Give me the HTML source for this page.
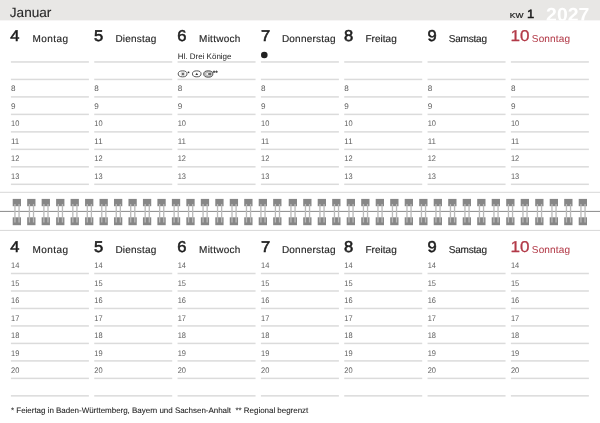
<!DOCTYPE html>
<html lang="de"><head><meta charset="utf-8"><title>Kalender KW 1 2027</title><style>html,body{margin:0;padding:0;background:#fff;}body{width:600px;height:423px;overflow:hidden;}svg{display:block;will-change:transform;}</style></head><body>
<svg width="600" height="423" viewBox="0 0 600 423" font-family="Liberation Sans, sans-serif" text-rendering="geometricPrecision">
<rect x="0" y="0" width="600" height="423" fill="#fff"/>
<clipPath id="bc"><rect x="0" y="0" width="600" height="20.4"/></clipPath>
<rect x="0" y="0" width="600" height="20.4" fill="#e8e7e5"/>
<g clip-path="url(#bc)"><text x="546.1" y="20.95" font-size="19" font-weight="bold" fill="#fff" textLength="43.2" lengthAdjust="spacingAndGlyphs">2027</text></g>
<text x="9.8" y="16.75" font-size="13.4" fill="#282828" stroke="#282828" stroke-width="0.12" textLength="41.6" lengthAdjust="spacingAndGlyphs">Januar</text>
<text x="509.8" y="17.75" font-size="7.2" fill="#1c1c1c" stroke="#1c1c1c" stroke-width="0.2" textLength="13.6" lengthAdjust="spacingAndGlyphs">KW</text>
<text x="526.9" y="17.75" font-size="12" fill="#1c1c1c" stroke="#1c1c1c" stroke-width="0.5" textLength="7.2" lengthAdjust="spacingAndGlyphs">1</text>
<text x="10.20" y="41.05" font-size="15.7" fill="#1c1c1c" stroke="#1c1c1c" stroke-width="0.55" textLength="9.20" lengthAdjust="spacingAndGlyphs">4</text>
<text x="32.45" y="41.75" font-size="10" fill="#262626" stroke="#262626" stroke-width="0.15" textLength="35.55" lengthAdjust="spacing">Montag</text>
<rect x="10.90" y="61.20" width="78.00" height="1.5" fill="#dbdbdb"/>
<rect x="10.90" y="78.68" width="78.00" height="1.5" fill="#dbdbdb"/>
<rect x="10.90" y="96.16" width="78.00" height="1.5" fill="#dbdbdb"/>
<rect x="10.90" y="113.64" width="78.00" height="1.5" fill="#dbdbdb"/>
<rect x="10.90" y="131.12" width="78.00" height="1.5" fill="#dbdbdb"/>
<rect x="10.90" y="148.60" width="78.00" height="1.5" fill="#dbdbdb"/>
<rect x="10.90" y="166.08" width="78.00" height="1.5" fill="#dbdbdb"/>
<rect x="10.90" y="183.56" width="78.00" height="1.5" fill="#dbdbdb"/>
<text x="11.00" y="91.36" font-size="8.1" fill="#5e5e5e">8</text>
<text x="11.00" y="108.84" font-size="8.1" fill="#5e5e5e">9</text>
<text x="11.00" y="126.32" font-size="8.1" fill="#5e5e5e" textLength="8.3" lengthAdjust="spacingAndGlyphs">10</text>
<text x="11.00" y="143.80" font-size="8.1" fill="#5e5e5e" textLength="8.3" lengthAdjust="spacingAndGlyphs">11</text>
<text x="11.00" y="161.28" font-size="8.1" fill="#5e5e5e" textLength="8.3" lengthAdjust="spacingAndGlyphs">12</text>
<text x="11.00" y="178.76" font-size="8.1" fill="#5e5e5e" textLength="8.3" lengthAdjust="spacingAndGlyphs">13</text>
<text x="93.90" y="41.05" font-size="15.7" fill="#1c1c1c" stroke="#1c1c1c" stroke-width="0.55" textLength="9.20" lengthAdjust="spacingAndGlyphs">5</text>
<text x="115.45" y="41.75" font-size="10" fill="#262626" stroke="#262626" stroke-width="0.15" textLength="40.80" lengthAdjust="spacing">Dienstag</text>
<rect x="94.23" y="61.20" width="78.00" height="1.5" fill="#dbdbdb"/>
<rect x="94.23" y="78.68" width="78.00" height="1.5" fill="#dbdbdb"/>
<rect x="94.23" y="96.16" width="78.00" height="1.5" fill="#dbdbdb"/>
<rect x="94.23" y="113.64" width="78.00" height="1.5" fill="#dbdbdb"/>
<rect x="94.23" y="131.12" width="78.00" height="1.5" fill="#dbdbdb"/>
<rect x="94.23" y="148.60" width="78.00" height="1.5" fill="#dbdbdb"/>
<rect x="94.23" y="166.08" width="78.00" height="1.5" fill="#dbdbdb"/>
<rect x="94.23" y="183.56" width="78.00" height="1.5" fill="#dbdbdb"/>
<text x="94.33" y="91.36" font-size="8.1" fill="#5e5e5e">8</text>
<text x="94.33" y="108.84" font-size="8.1" fill="#5e5e5e">9</text>
<text x="94.33" y="126.32" font-size="8.1" fill="#5e5e5e" textLength="8.3" lengthAdjust="spacingAndGlyphs">10</text>
<text x="94.33" y="143.80" font-size="8.1" fill="#5e5e5e" textLength="8.3" lengthAdjust="spacingAndGlyphs">11</text>
<text x="94.33" y="161.28" font-size="8.1" fill="#5e5e5e" textLength="8.3" lengthAdjust="spacingAndGlyphs">12</text>
<text x="94.33" y="178.76" font-size="8.1" fill="#5e5e5e" textLength="8.3" lengthAdjust="spacingAndGlyphs">13</text>
<text x="177.20" y="41.05" font-size="15.7" fill="#1c1c1c" stroke="#1c1c1c" stroke-width="0.55" textLength="9.20" lengthAdjust="spacingAndGlyphs">6</text>
<text x="199.05" y="41.75" font-size="10" fill="#262626" stroke="#262626" stroke-width="0.15" textLength="41.20" lengthAdjust="spacing">Mittwoch</text>
<rect x="177.56" y="61.20" width="78.00" height="1.5" fill="#dbdbdb"/>
<rect x="177.56" y="78.68" width="78.00" height="1.5" fill="#dbdbdb"/>
<rect x="177.56" y="96.16" width="78.00" height="1.5" fill="#dbdbdb"/>
<rect x="177.56" y="113.64" width="78.00" height="1.5" fill="#dbdbdb"/>
<rect x="177.56" y="131.12" width="78.00" height="1.5" fill="#dbdbdb"/>
<rect x="177.56" y="148.60" width="78.00" height="1.5" fill="#dbdbdb"/>
<rect x="177.56" y="166.08" width="78.00" height="1.5" fill="#dbdbdb"/>
<rect x="177.56" y="183.56" width="78.00" height="1.5" fill="#dbdbdb"/>
<text x="177.66" y="91.36" font-size="8.1" fill="#5e5e5e">8</text>
<text x="177.66" y="108.84" font-size="8.1" fill="#5e5e5e">9</text>
<text x="177.66" y="126.32" font-size="8.1" fill="#5e5e5e" textLength="8.3" lengthAdjust="spacingAndGlyphs">10</text>
<text x="177.66" y="143.80" font-size="8.1" fill="#5e5e5e" textLength="8.3" lengthAdjust="spacingAndGlyphs">11</text>
<text x="177.66" y="161.28" font-size="8.1" fill="#5e5e5e" textLength="8.3" lengthAdjust="spacingAndGlyphs">12</text>
<text x="177.66" y="178.76" font-size="8.1" fill="#5e5e5e" textLength="8.3" lengthAdjust="spacingAndGlyphs">13</text>
<text x="260.90" y="41.05" font-size="15.7" fill="#1c1c1c" stroke="#1c1c1c" stroke-width="0.55" textLength="9.20" lengthAdjust="spacingAndGlyphs">7</text>
<text x="281.90" y="41.75" font-size="10" fill="#262626" stroke="#262626" stroke-width="0.15" textLength="53.60" lengthAdjust="spacing">Donnerstag</text>
<rect x="260.89" y="61.20" width="78.00" height="1.5" fill="#dbdbdb"/>
<rect x="260.89" y="78.68" width="78.00" height="1.5" fill="#dbdbdb"/>
<rect x="260.89" y="96.16" width="78.00" height="1.5" fill="#dbdbdb"/>
<rect x="260.89" y="113.64" width="78.00" height="1.5" fill="#dbdbdb"/>
<rect x="260.89" y="131.12" width="78.00" height="1.5" fill="#dbdbdb"/>
<rect x="260.89" y="148.60" width="78.00" height="1.5" fill="#dbdbdb"/>
<rect x="260.89" y="166.08" width="78.00" height="1.5" fill="#dbdbdb"/>
<rect x="260.89" y="183.56" width="78.00" height="1.5" fill="#dbdbdb"/>
<text x="260.99" y="91.36" font-size="8.1" fill="#5e5e5e">8</text>
<text x="260.99" y="108.84" font-size="8.1" fill="#5e5e5e">9</text>
<text x="260.99" y="126.32" font-size="8.1" fill="#5e5e5e" textLength="8.3" lengthAdjust="spacingAndGlyphs">10</text>
<text x="260.99" y="143.80" font-size="8.1" fill="#5e5e5e" textLength="8.3" lengthAdjust="spacingAndGlyphs">11</text>
<text x="260.99" y="161.28" font-size="8.1" fill="#5e5e5e" textLength="8.3" lengthAdjust="spacingAndGlyphs">12</text>
<text x="260.99" y="178.76" font-size="8.1" fill="#5e5e5e" textLength="8.3" lengthAdjust="spacingAndGlyphs">13</text>
<text x="343.90" y="41.05" font-size="15.7" fill="#1c1c1c" stroke="#1c1c1c" stroke-width="0.55" textLength="9.20" lengthAdjust="spacingAndGlyphs">8</text>
<text x="365.45" y="41.75" font-size="10" fill="#262626" stroke="#262626" stroke-width="0.15" textLength="31.30" lengthAdjust="spacing">Freitag</text>
<rect x="344.22" y="61.20" width="78.00" height="1.5" fill="#dbdbdb"/>
<rect x="344.22" y="78.68" width="78.00" height="1.5" fill="#dbdbdb"/>
<rect x="344.22" y="96.16" width="78.00" height="1.5" fill="#dbdbdb"/>
<rect x="344.22" y="113.64" width="78.00" height="1.5" fill="#dbdbdb"/>
<rect x="344.22" y="131.12" width="78.00" height="1.5" fill="#dbdbdb"/>
<rect x="344.22" y="148.60" width="78.00" height="1.5" fill="#dbdbdb"/>
<rect x="344.22" y="166.08" width="78.00" height="1.5" fill="#dbdbdb"/>
<rect x="344.22" y="183.56" width="78.00" height="1.5" fill="#dbdbdb"/>
<text x="344.32" y="91.36" font-size="8.1" fill="#5e5e5e">8</text>
<text x="344.32" y="108.84" font-size="8.1" fill="#5e5e5e">9</text>
<text x="344.32" y="126.32" font-size="8.1" fill="#5e5e5e" textLength="8.3" lengthAdjust="spacingAndGlyphs">10</text>
<text x="344.32" y="143.80" font-size="8.1" fill="#5e5e5e" textLength="8.3" lengthAdjust="spacingAndGlyphs">11</text>
<text x="344.32" y="161.28" font-size="8.1" fill="#5e5e5e" textLength="8.3" lengthAdjust="spacingAndGlyphs">12</text>
<text x="344.32" y="178.76" font-size="8.1" fill="#5e5e5e" textLength="8.3" lengthAdjust="spacingAndGlyphs">13</text>
<text x="427.40" y="41.05" font-size="15.7" fill="#1c1c1c" stroke="#1c1c1c" stroke-width="0.55" textLength="9.20" lengthAdjust="spacingAndGlyphs">9</text>
<text x="448.70" y="41.75" font-size="10" fill="#262626" stroke="#262626" stroke-width="0.15" textLength="38.30" lengthAdjust="spacing">Samstag</text>
<rect x="427.55" y="61.20" width="78.00" height="1.5" fill="#dbdbdb"/>
<rect x="427.55" y="78.68" width="78.00" height="1.5" fill="#dbdbdb"/>
<rect x="427.55" y="96.16" width="78.00" height="1.5" fill="#dbdbdb"/>
<rect x="427.55" y="113.64" width="78.00" height="1.5" fill="#dbdbdb"/>
<rect x="427.55" y="131.12" width="78.00" height="1.5" fill="#dbdbdb"/>
<rect x="427.55" y="148.60" width="78.00" height="1.5" fill="#dbdbdb"/>
<rect x="427.55" y="166.08" width="78.00" height="1.5" fill="#dbdbdb"/>
<rect x="427.55" y="183.56" width="78.00" height="1.5" fill="#dbdbdb"/>
<text x="427.65" y="91.36" font-size="8.1" fill="#5e5e5e">8</text>
<text x="427.65" y="108.84" font-size="8.1" fill="#5e5e5e">9</text>
<text x="427.65" y="126.32" font-size="8.1" fill="#5e5e5e" textLength="8.3" lengthAdjust="spacingAndGlyphs">10</text>
<text x="427.65" y="143.80" font-size="8.1" fill="#5e5e5e" textLength="8.3" lengthAdjust="spacingAndGlyphs">11</text>
<text x="427.65" y="161.28" font-size="8.1" fill="#5e5e5e" textLength="8.3" lengthAdjust="spacingAndGlyphs">12</text>
<text x="427.65" y="178.76" font-size="8.1" fill="#5e5e5e" textLength="8.3" lengthAdjust="spacingAndGlyphs">13</text>
<text x="510.50" y="41.05" font-size="15.7" fill="#b23a48" stroke="#b23a48" stroke-width="0.30" textLength="19.00" lengthAdjust="spacingAndGlyphs">10</text>
<text x="531.85" y="41.75" font-size="10" fill="#b23a48" stroke="#b23a48" stroke-width="0.05" textLength="38.10" lengthAdjust="spacing">Sonntag</text>
<rect x="510.88" y="61.20" width="78.00" height="1.5" fill="#dbdbdb"/>
<rect x="510.88" y="78.68" width="78.00" height="1.5" fill="#dbdbdb"/>
<rect x="510.88" y="96.16" width="78.00" height="1.5" fill="#dbdbdb"/>
<rect x="510.88" y="113.64" width="78.00" height="1.5" fill="#dbdbdb"/>
<rect x="510.88" y="131.12" width="78.00" height="1.5" fill="#dbdbdb"/>
<rect x="510.88" y="148.60" width="78.00" height="1.5" fill="#dbdbdb"/>
<rect x="510.88" y="166.08" width="78.00" height="1.5" fill="#dbdbdb"/>
<rect x="510.88" y="183.56" width="78.00" height="1.5" fill="#dbdbdb"/>
<text x="510.98" y="91.36" font-size="8.1" fill="#5e5e5e">8</text>
<text x="510.98" y="108.84" font-size="8.1" fill="#5e5e5e">9</text>
<text x="510.98" y="126.32" font-size="8.1" fill="#5e5e5e" textLength="8.3" lengthAdjust="spacingAndGlyphs">10</text>
<text x="510.98" y="143.80" font-size="8.1" fill="#5e5e5e" textLength="8.3" lengthAdjust="spacingAndGlyphs">11</text>
<text x="510.98" y="161.28" font-size="8.1" fill="#5e5e5e" textLength="8.3" lengthAdjust="spacingAndGlyphs">12</text>
<text x="510.98" y="178.76" font-size="8.1" fill="#5e5e5e" textLength="8.3" lengthAdjust="spacingAndGlyphs">13</text>
<text x="10.20" y="252.25" font-size="15.7" fill="#1c1c1c" stroke="#1c1c1c" stroke-width="0.55" textLength="9.20" lengthAdjust="spacingAndGlyphs">4</text>
<text x="32.45" y="252.95" font-size="10" fill="#262626" stroke="#262626" stroke-width="0.15" textLength="35.55" lengthAdjust="spacing">Montag</text>
<rect x="10.90" y="272.75" width="78.00" height="1.5" fill="#dbdbdb"/>
<rect x="10.90" y="290.23" width="78.00" height="1.5" fill="#dbdbdb"/>
<rect x="10.90" y="307.71" width="78.00" height="1.5" fill="#dbdbdb"/>
<rect x="10.90" y="325.19" width="78.00" height="1.5" fill="#dbdbdb"/>
<rect x="10.90" y="342.67" width="78.00" height="1.5" fill="#dbdbdb"/>
<rect x="10.90" y="360.15" width="78.00" height="1.5" fill="#dbdbdb"/>
<rect x="10.90" y="377.63" width="78.00" height="1.5" fill="#dbdbdb"/>
<rect x="10.90" y="395.11" width="78.00" height="1.5" fill="#dbdbdb"/>
<text x="11.00" y="268.35" font-size="8.1" fill="#5e5e5e" textLength="8.3" lengthAdjust="spacingAndGlyphs">14</text>
<text x="11.00" y="285.83" font-size="8.1" fill="#5e5e5e" textLength="8.3" lengthAdjust="spacingAndGlyphs">15</text>
<text x="11.00" y="303.31" font-size="8.1" fill="#5e5e5e" textLength="8.3" lengthAdjust="spacingAndGlyphs">16</text>
<text x="11.00" y="320.79" font-size="8.1" fill="#5e5e5e" textLength="8.3" lengthAdjust="spacingAndGlyphs">17</text>
<text x="11.00" y="338.27" font-size="8.1" fill="#5e5e5e" textLength="8.3" lengthAdjust="spacingAndGlyphs">18</text>
<text x="11.00" y="355.75" font-size="8.1" fill="#5e5e5e" textLength="8.3" lengthAdjust="spacingAndGlyphs">19</text>
<text x="11.00" y="373.23" font-size="8.1" fill="#5e5e5e" textLength="8.3" lengthAdjust="spacingAndGlyphs">20</text>
<text x="93.90" y="252.25" font-size="15.7" fill="#1c1c1c" stroke="#1c1c1c" stroke-width="0.55" textLength="9.20" lengthAdjust="spacingAndGlyphs">5</text>
<text x="115.45" y="252.95" font-size="10" fill="#262626" stroke="#262626" stroke-width="0.15" textLength="40.80" lengthAdjust="spacing">Dienstag</text>
<rect x="94.23" y="272.75" width="78.00" height="1.5" fill="#dbdbdb"/>
<rect x="94.23" y="290.23" width="78.00" height="1.5" fill="#dbdbdb"/>
<rect x="94.23" y="307.71" width="78.00" height="1.5" fill="#dbdbdb"/>
<rect x="94.23" y="325.19" width="78.00" height="1.5" fill="#dbdbdb"/>
<rect x="94.23" y="342.67" width="78.00" height="1.5" fill="#dbdbdb"/>
<rect x="94.23" y="360.15" width="78.00" height="1.5" fill="#dbdbdb"/>
<rect x="94.23" y="377.63" width="78.00" height="1.5" fill="#dbdbdb"/>
<rect x="94.23" y="395.11" width="78.00" height="1.5" fill="#dbdbdb"/>
<text x="94.33" y="268.35" font-size="8.1" fill="#5e5e5e" textLength="8.3" lengthAdjust="spacingAndGlyphs">14</text>
<text x="94.33" y="285.83" font-size="8.1" fill="#5e5e5e" textLength="8.3" lengthAdjust="spacingAndGlyphs">15</text>
<text x="94.33" y="303.31" font-size="8.1" fill="#5e5e5e" textLength="8.3" lengthAdjust="spacingAndGlyphs">16</text>
<text x="94.33" y="320.79" font-size="8.1" fill="#5e5e5e" textLength="8.3" lengthAdjust="spacingAndGlyphs">17</text>
<text x="94.33" y="338.27" font-size="8.1" fill="#5e5e5e" textLength="8.3" lengthAdjust="spacingAndGlyphs">18</text>
<text x="94.33" y="355.75" font-size="8.1" fill="#5e5e5e" textLength="8.3" lengthAdjust="spacingAndGlyphs">19</text>
<text x="94.33" y="373.23" font-size="8.1" fill="#5e5e5e" textLength="8.3" lengthAdjust="spacingAndGlyphs">20</text>
<text x="177.20" y="252.25" font-size="15.7" fill="#1c1c1c" stroke="#1c1c1c" stroke-width="0.55" textLength="9.20" lengthAdjust="spacingAndGlyphs">6</text>
<text x="199.05" y="252.95" font-size="10" fill="#262626" stroke="#262626" stroke-width="0.15" textLength="41.20" lengthAdjust="spacing">Mittwoch</text>
<rect x="177.56" y="272.75" width="78.00" height="1.5" fill="#dbdbdb"/>
<rect x="177.56" y="290.23" width="78.00" height="1.5" fill="#dbdbdb"/>
<rect x="177.56" y="307.71" width="78.00" height="1.5" fill="#dbdbdb"/>
<rect x="177.56" y="325.19" width="78.00" height="1.5" fill="#dbdbdb"/>
<rect x="177.56" y="342.67" width="78.00" height="1.5" fill="#dbdbdb"/>
<rect x="177.56" y="360.15" width="78.00" height="1.5" fill="#dbdbdb"/>
<rect x="177.56" y="377.63" width="78.00" height="1.5" fill="#dbdbdb"/>
<rect x="177.56" y="395.11" width="78.00" height="1.5" fill="#dbdbdb"/>
<text x="177.66" y="268.35" font-size="8.1" fill="#5e5e5e" textLength="8.3" lengthAdjust="spacingAndGlyphs">14</text>
<text x="177.66" y="285.83" font-size="8.1" fill="#5e5e5e" textLength="8.3" lengthAdjust="spacingAndGlyphs">15</text>
<text x="177.66" y="303.31" font-size="8.1" fill="#5e5e5e" textLength="8.3" lengthAdjust="spacingAndGlyphs">16</text>
<text x="177.66" y="320.79" font-size="8.1" fill="#5e5e5e" textLength="8.3" lengthAdjust="spacingAndGlyphs">17</text>
<text x="177.66" y="338.27" font-size="8.1" fill="#5e5e5e" textLength="8.3" lengthAdjust="spacingAndGlyphs">18</text>
<text x="177.66" y="355.75" font-size="8.1" fill="#5e5e5e" textLength="8.3" lengthAdjust="spacingAndGlyphs">19</text>
<text x="177.66" y="373.23" font-size="8.1" fill="#5e5e5e" textLength="8.3" lengthAdjust="spacingAndGlyphs">20</text>
<text x="260.90" y="252.25" font-size="15.7" fill="#1c1c1c" stroke="#1c1c1c" stroke-width="0.55" textLength="9.20" lengthAdjust="spacingAndGlyphs">7</text>
<text x="281.90" y="252.95" font-size="10" fill="#262626" stroke="#262626" stroke-width="0.15" textLength="53.60" lengthAdjust="spacing">Donnerstag</text>
<rect x="260.89" y="272.75" width="78.00" height="1.5" fill="#dbdbdb"/>
<rect x="260.89" y="290.23" width="78.00" height="1.5" fill="#dbdbdb"/>
<rect x="260.89" y="307.71" width="78.00" height="1.5" fill="#dbdbdb"/>
<rect x="260.89" y="325.19" width="78.00" height="1.5" fill="#dbdbdb"/>
<rect x="260.89" y="342.67" width="78.00" height="1.5" fill="#dbdbdb"/>
<rect x="260.89" y="360.15" width="78.00" height="1.5" fill="#dbdbdb"/>
<rect x="260.89" y="377.63" width="78.00" height="1.5" fill="#dbdbdb"/>
<rect x="260.89" y="395.11" width="78.00" height="1.5" fill="#dbdbdb"/>
<text x="260.99" y="268.35" font-size="8.1" fill="#5e5e5e" textLength="8.3" lengthAdjust="spacingAndGlyphs">14</text>
<text x="260.99" y="285.83" font-size="8.1" fill="#5e5e5e" textLength="8.3" lengthAdjust="spacingAndGlyphs">15</text>
<text x="260.99" y="303.31" font-size="8.1" fill="#5e5e5e" textLength="8.3" lengthAdjust="spacingAndGlyphs">16</text>
<text x="260.99" y="320.79" font-size="8.1" fill="#5e5e5e" textLength="8.3" lengthAdjust="spacingAndGlyphs">17</text>
<text x="260.99" y="338.27" font-size="8.1" fill="#5e5e5e" textLength="8.3" lengthAdjust="spacingAndGlyphs">18</text>
<text x="260.99" y="355.75" font-size="8.1" fill="#5e5e5e" textLength="8.3" lengthAdjust="spacingAndGlyphs">19</text>
<text x="260.99" y="373.23" font-size="8.1" fill="#5e5e5e" textLength="8.3" lengthAdjust="spacingAndGlyphs">20</text>
<text x="343.90" y="252.25" font-size="15.7" fill="#1c1c1c" stroke="#1c1c1c" stroke-width="0.55" textLength="9.20" lengthAdjust="spacingAndGlyphs">8</text>
<text x="365.45" y="252.95" font-size="10" fill="#262626" stroke="#262626" stroke-width="0.15" textLength="31.30" lengthAdjust="spacing">Freitag</text>
<rect x="344.22" y="272.75" width="78.00" height="1.5" fill="#dbdbdb"/>
<rect x="344.22" y="290.23" width="78.00" height="1.5" fill="#dbdbdb"/>
<rect x="344.22" y="307.71" width="78.00" height="1.5" fill="#dbdbdb"/>
<rect x="344.22" y="325.19" width="78.00" height="1.5" fill="#dbdbdb"/>
<rect x="344.22" y="342.67" width="78.00" height="1.5" fill="#dbdbdb"/>
<rect x="344.22" y="360.15" width="78.00" height="1.5" fill="#dbdbdb"/>
<rect x="344.22" y="377.63" width="78.00" height="1.5" fill="#dbdbdb"/>
<rect x="344.22" y="395.11" width="78.00" height="1.5" fill="#dbdbdb"/>
<text x="344.32" y="268.35" font-size="8.1" fill="#5e5e5e" textLength="8.3" lengthAdjust="spacingAndGlyphs">14</text>
<text x="344.32" y="285.83" font-size="8.1" fill="#5e5e5e" textLength="8.3" lengthAdjust="spacingAndGlyphs">15</text>
<text x="344.32" y="303.31" font-size="8.1" fill="#5e5e5e" textLength="8.3" lengthAdjust="spacingAndGlyphs">16</text>
<text x="344.32" y="320.79" font-size="8.1" fill="#5e5e5e" textLength="8.3" lengthAdjust="spacingAndGlyphs">17</text>
<text x="344.32" y="338.27" font-size="8.1" fill="#5e5e5e" textLength="8.3" lengthAdjust="spacingAndGlyphs">18</text>
<text x="344.32" y="355.75" font-size="8.1" fill="#5e5e5e" textLength="8.3" lengthAdjust="spacingAndGlyphs">19</text>
<text x="344.32" y="373.23" font-size="8.1" fill="#5e5e5e" textLength="8.3" lengthAdjust="spacingAndGlyphs">20</text>
<text x="427.40" y="252.25" font-size="15.7" fill="#1c1c1c" stroke="#1c1c1c" stroke-width="0.55" textLength="9.20" lengthAdjust="spacingAndGlyphs">9</text>
<text x="448.70" y="252.95" font-size="10" fill="#262626" stroke="#262626" stroke-width="0.15" textLength="38.30" lengthAdjust="spacing">Samstag</text>
<rect x="427.55" y="272.75" width="78.00" height="1.5" fill="#dbdbdb"/>
<rect x="427.55" y="290.23" width="78.00" height="1.5" fill="#dbdbdb"/>
<rect x="427.55" y="307.71" width="78.00" height="1.5" fill="#dbdbdb"/>
<rect x="427.55" y="325.19" width="78.00" height="1.5" fill="#dbdbdb"/>
<rect x="427.55" y="342.67" width="78.00" height="1.5" fill="#dbdbdb"/>
<rect x="427.55" y="360.15" width="78.00" height="1.5" fill="#dbdbdb"/>
<rect x="427.55" y="377.63" width="78.00" height="1.5" fill="#dbdbdb"/>
<rect x="427.55" y="395.11" width="78.00" height="1.5" fill="#dbdbdb"/>
<text x="427.65" y="268.35" font-size="8.1" fill="#5e5e5e" textLength="8.3" lengthAdjust="spacingAndGlyphs">14</text>
<text x="427.65" y="285.83" font-size="8.1" fill="#5e5e5e" textLength="8.3" lengthAdjust="spacingAndGlyphs">15</text>
<text x="427.65" y="303.31" font-size="8.1" fill="#5e5e5e" textLength="8.3" lengthAdjust="spacingAndGlyphs">16</text>
<text x="427.65" y="320.79" font-size="8.1" fill="#5e5e5e" textLength="8.3" lengthAdjust="spacingAndGlyphs">17</text>
<text x="427.65" y="338.27" font-size="8.1" fill="#5e5e5e" textLength="8.3" lengthAdjust="spacingAndGlyphs">18</text>
<text x="427.65" y="355.75" font-size="8.1" fill="#5e5e5e" textLength="8.3" lengthAdjust="spacingAndGlyphs">19</text>
<text x="427.65" y="373.23" font-size="8.1" fill="#5e5e5e" textLength="8.3" lengthAdjust="spacingAndGlyphs">20</text>
<text x="510.50" y="252.25" font-size="15.7" fill="#b23a48" stroke="#b23a48" stroke-width="0.30" textLength="19.00" lengthAdjust="spacingAndGlyphs">10</text>
<text x="531.85" y="252.95" font-size="10" fill="#b23a48" stroke="#b23a48" stroke-width="0.05" textLength="38.10" lengthAdjust="spacing">Sonntag</text>
<rect x="510.88" y="272.75" width="78.00" height="1.5" fill="#dbdbdb"/>
<rect x="510.88" y="290.23" width="78.00" height="1.5" fill="#dbdbdb"/>
<rect x="510.88" y="307.71" width="78.00" height="1.5" fill="#dbdbdb"/>
<rect x="510.88" y="325.19" width="78.00" height="1.5" fill="#dbdbdb"/>
<rect x="510.88" y="342.67" width="78.00" height="1.5" fill="#dbdbdb"/>
<rect x="510.88" y="360.15" width="78.00" height="1.5" fill="#dbdbdb"/>
<rect x="510.88" y="377.63" width="78.00" height="1.5" fill="#dbdbdb"/>
<rect x="510.88" y="395.11" width="78.00" height="1.5" fill="#dbdbdb"/>
<text x="510.98" y="268.35" font-size="8.1" fill="#5e5e5e" textLength="8.3" lengthAdjust="spacingAndGlyphs">14</text>
<text x="510.98" y="285.83" font-size="8.1" fill="#5e5e5e" textLength="8.3" lengthAdjust="spacingAndGlyphs">15</text>
<text x="510.98" y="303.31" font-size="8.1" fill="#5e5e5e" textLength="8.3" lengthAdjust="spacingAndGlyphs">16</text>
<text x="510.98" y="320.79" font-size="8.1" fill="#5e5e5e" textLength="8.3" lengthAdjust="spacingAndGlyphs">17</text>
<text x="510.98" y="338.27" font-size="8.1" fill="#5e5e5e" textLength="8.3" lengthAdjust="spacingAndGlyphs">18</text>
<text x="510.98" y="355.75" font-size="8.1" fill="#5e5e5e" textLength="8.3" lengthAdjust="spacingAndGlyphs">19</text>
<text x="510.98" y="373.23" font-size="8.1" fill="#5e5e5e" textLength="8.3" lengthAdjust="spacingAndGlyphs">20</text>
<text x="177.7" y="59.1" font-size="8" fill="#222" textLength="53.8" lengthAdjust="spacing">Hl. Drei Könige</text>
<circle cx="264.3" cy="55" r="3.3" fill="#222"/>
<g fill="none" stroke="#444" stroke-width="0.9">
<ellipse cx="182.6" cy="73.85" rx="4.4" ry="3.0"/>
<ellipse cx="196.75" cy="73.85" rx="4.3" ry="3.0"/>
<ellipse cx="208.3" cy="74" rx="4.6" ry="3.2" fill="#c4c4c4" stroke="#484848"/>
<ellipse cx="208.8" cy="74" rx="3.1" ry="1.9" fill="#f2f2f2" stroke="#888" stroke-width="0.5"/>
<circle cx="182.9" cy="74" r="1.9" stroke="#aaa" stroke-width="0.5"/>
</g>
<circle cx="182.9" cy="74" r="1.2" fill="#6a6a6a"/>
<rect x="208.2" y="73.2" width="2.8" height="1.6" fill="#444"/>
<path d="M196.75 72.7 L198.1 75 L195.4 75 Z" fill="#333"/>
<text x="187.6" y="75" font-size="5.4" font-weight="bold" fill="#1c1c1c">*</text>
<text x="212.8" y="74.6" font-size="6.5" font-weight="bold" fill="#1c1c1c">**</text>
<rect x="0" y="191.8" width="600" height="1" fill="#d8d8d8"/>
<rect x="0" y="229.9" width="600" height="1" fill="#d8d8d8"/>
<rect x="0" y="210.9" width="600" height="1" fill="#8a8a8a"/>
<rect x="12.70" y="198.9" width="8.3" height="7.3" fill="#878787"/>
<rect x="12.70" y="217.3" width="8.3" height="7.9" fill="#878787"/>
<rect x="14.30" y="204" width="1.3" height="18.5" fill="#bababa"/>
<rect x="18.40" y="204" width="1.3" height="18.5" fill="#bababa"/>
<rect x="27.17" y="198.9" width="8.3" height="7.3" fill="#878787"/>
<rect x="27.17" y="217.3" width="8.3" height="7.9" fill="#878787"/>
<rect x="28.77" y="204" width="1.3" height="18.5" fill="#bababa"/>
<rect x="32.87" y="204" width="1.3" height="18.5" fill="#bababa"/>
<rect x="41.64" y="198.9" width="8.3" height="7.3" fill="#878787"/>
<rect x="41.64" y="217.3" width="8.3" height="7.9" fill="#878787"/>
<rect x="43.24" y="204" width="1.3" height="18.5" fill="#bababa"/>
<rect x="47.34" y="204" width="1.3" height="18.5" fill="#bababa"/>
<rect x="56.11" y="198.9" width="8.3" height="7.3" fill="#878787"/>
<rect x="56.11" y="217.3" width="8.3" height="7.9" fill="#878787"/>
<rect x="57.71" y="204" width="1.3" height="18.5" fill="#bababa"/>
<rect x="61.81" y="204" width="1.3" height="18.5" fill="#bababa"/>
<rect x="70.58" y="198.9" width="8.3" height="7.3" fill="#878787"/>
<rect x="70.58" y="217.3" width="8.3" height="7.9" fill="#878787"/>
<rect x="72.18" y="204" width="1.3" height="18.5" fill="#bababa"/>
<rect x="76.28" y="204" width="1.3" height="18.5" fill="#bababa"/>
<rect x="85.05" y="198.9" width="8.3" height="7.3" fill="#878787"/>
<rect x="85.05" y="217.3" width="8.3" height="7.9" fill="#878787"/>
<rect x="86.65" y="204" width="1.3" height="18.5" fill="#bababa"/>
<rect x="90.75" y="204" width="1.3" height="18.5" fill="#bababa"/>
<rect x="99.52" y="198.9" width="8.3" height="7.3" fill="#878787"/>
<rect x="99.52" y="217.3" width="8.3" height="7.9" fill="#878787"/>
<rect x="101.12" y="204" width="1.3" height="18.5" fill="#bababa"/>
<rect x="105.22" y="204" width="1.3" height="18.5" fill="#bababa"/>
<rect x="113.99" y="198.9" width="8.3" height="7.3" fill="#878787"/>
<rect x="113.99" y="217.3" width="8.3" height="7.9" fill="#878787"/>
<rect x="115.59" y="204" width="1.3" height="18.5" fill="#bababa"/>
<rect x="119.69" y="204" width="1.3" height="18.5" fill="#bababa"/>
<rect x="128.46" y="198.9" width="8.3" height="7.3" fill="#878787"/>
<rect x="128.46" y="217.3" width="8.3" height="7.9" fill="#878787"/>
<rect x="130.06" y="204" width="1.3" height="18.5" fill="#bababa"/>
<rect x="134.16" y="204" width="1.3" height="18.5" fill="#bababa"/>
<rect x="142.93" y="198.9" width="8.3" height="7.3" fill="#878787"/>
<rect x="142.93" y="217.3" width="8.3" height="7.9" fill="#878787"/>
<rect x="144.53" y="204" width="1.3" height="18.5" fill="#bababa"/>
<rect x="148.63" y="204" width="1.3" height="18.5" fill="#bababa"/>
<rect x="157.40" y="198.9" width="8.3" height="7.3" fill="#878787"/>
<rect x="157.40" y="217.3" width="8.3" height="7.9" fill="#878787"/>
<rect x="159.00" y="204" width="1.3" height="18.5" fill="#bababa"/>
<rect x="163.10" y="204" width="1.3" height="18.5" fill="#bababa"/>
<rect x="171.87" y="198.9" width="8.3" height="7.3" fill="#878787"/>
<rect x="171.87" y="217.3" width="8.3" height="7.9" fill="#878787"/>
<rect x="173.47" y="204" width="1.3" height="18.5" fill="#bababa"/>
<rect x="177.57" y="204" width="1.3" height="18.5" fill="#bababa"/>
<rect x="186.34" y="198.9" width="8.3" height="7.3" fill="#878787"/>
<rect x="186.34" y="217.3" width="8.3" height="7.9" fill="#878787"/>
<rect x="187.94" y="204" width="1.3" height="18.5" fill="#bababa"/>
<rect x="192.04" y="204" width="1.3" height="18.5" fill="#bababa"/>
<rect x="200.81" y="198.9" width="8.3" height="7.3" fill="#878787"/>
<rect x="200.81" y="217.3" width="8.3" height="7.9" fill="#878787"/>
<rect x="202.41" y="204" width="1.3" height="18.5" fill="#bababa"/>
<rect x="206.51" y="204" width="1.3" height="18.5" fill="#bababa"/>
<rect x="215.28" y="198.9" width="8.3" height="7.3" fill="#878787"/>
<rect x="215.28" y="217.3" width="8.3" height="7.9" fill="#878787"/>
<rect x="216.88" y="204" width="1.3" height="18.5" fill="#bababa"/>
<rect x="220.98" y="204" width="1.3" height="18.5" fill="#bababa"/>
<rect x="229.75" y="198.9" width="8.3" height="7.3" fill="#878787"/>
<rect x="229.75" y="217.3" width="8.3" height="7.9" fill="#878787"/>
<rect x="231.35" y="204" width="1.3" height="18.5" fill="#bababa"/>
<rect x="235.45" y="204" width="1.3" height="18.5" fill="#bababa"/>
<rect x="244.22" y="198.9" width="8.3" height="7.3" fill="#878787"/>
<rect x="244.22" y="217.3" width="8.3" height="7.9" fill="#878787"/>
<rect x="245.82" y="204" width="1.3" height="18.5" fill="#bababa"/>
<rect x="249.92" y="204" width="1.3" height="18.5" fill="#bababa"/>
<rect x="258.69" y="198.9" width="8.3" height="7.3" fill="#878787"/>
<rect x="258.69" y="217.3" width="8.3" height="7.9" fill="#878787"/>
<rect x="260.29" y="204" width="1.3" height="18.5" fill="#bababa"/>
<rect x="264.39" y="204" width="1.3" height="18.5" fill="#bababa"/>
<rect x="273.16" y="198.9" width="8.3" height="7.3" fill="#878787"/>
<rect x="273.16" y="217.3" width="8.3" height="7.9" fill="#878787"/>
<rect x="274.76" y="204" width="1.3" height="18.5" fill="#bababa"/>
<rect x="278.86" y="204" width="1.3" height="18.5" fill="#bababa"/>
<rect x="288.70" y="198.9" width="8.3" height="7.3" fill="#878787"/>
<rect x="288.70" y="217.3" width="8.3" height="7.9" fill="#878787"/>
<rect x="290.30" y="204" width="1.3" height="18.5" fill="#bababa"/>
<rect x="294.40" y="204" width="1.3" height="18.5" fill="#bababa"/>
<rect x="303.20" y="198.9" width="8.3" height="7.3" fill="#878787"/>
<rect x="303.20" y="217.3" width="8.3" height="7.9" fill="#878787"/>
<rect x="304.80" y="204" width="1.3" height="18.5" fill="#bababa"/>
<rect x="308.90" y="204" width="1.3" height="18.5" fill="#bababa"/>
<rect x="317.70" y="198.9" width="8.3" height="7.3" fill="#878787"/>
<rect x="317.70" y="217.3" width="8.3" height="7.9" fill="#878787"/>
<rect x="319.30" y="204" width="1.3" height="18.5" fill="#bababa"/>
<rect x="323.40" y="204" width="1.3" height="18.5" fill="#bababa"/>
<rect x="332.20" y="198.9" width="8.3" height="7.3" fill="#878787"/>
<rect x="332.20" y="217.3" width="8.3" height="7.9" fill="#878787"/>
<rect x="333.80" y="204" width="1.3" height="18.5" fill="#bababa"/>
<rect x="337.90" y="204" width="1.3" height="18.5" fill="#bababa"/>
<rect x="346.70" y="198.9" width="8.3" height="7.3" fill="#878787"/>
<rect x="346.70" y="217.3" width="8.3" height="7.9" fill="#878787"/>
<rect x="348.30" y="204" width="1.3" height="18.5" fill="#bababa"/>
<rect x="352.40" y="204" width="1.3" height="18.5" fill="#bababa"/>
<rect x="361.20" y="198.9" width="8.3" height="7.3" fill="#878787"/>
<rect x="361.20" y="217.3" width="8.3" height="7.9" fill="#878787"/>
<rect x="362.80" y="204" width="1.3" height="18.5" fill="#bababa"/>
<rect x="366.90" y="204" width="1.3" height="18.5" fill="#bababa"/>
<rect x="375.70" y="198.9" width="8.3" height="7.3" fill="#878787"/>
<rect x="375.70" y="217.3" width="8.3" height="7.9" fill="#878787"/>
<rect x="377.30" y="204" width="1.3" height="18.5" fill="#bababa"/>
<rect x="381.40" y="204" width="1.3" height="18.5" fill="#bababa"/>
<rect x="390.20" y="198.9" width="8.3" height="7.3" fill="#878787"/>
<rect x="390.20" y="217.3" width="8.3" height="7.9" fill="#878787"/>
<rect x="391.80" y="204" width="1.3" height="18.5" fill="#bababa"/>
<rect x="395.90" y="204" width="1.3" height="18.5" fill="#bababa"/>
<rect x="404.70" y="198.9" width="8.3" height="7.3" fill="#878787"/>
<rect x="404.70" y="217.3" width="8.3" height="7.9" fill="#878787"/>
<rect x="406.30" y="204" width="1.3" height="18.5" fill="#bababa"/>
<rect x="410.40" y="204" width="1.3" height="18.5" fill="#bababa"/>
<rect x="419.20" y="198.9" width="8.3" height="7.3" fill="#878787"/>
<rect x="419.20" y="217.3" width="8.3" height="7.9" fill="#878787"/>
<rect x="420.80" y="204" width="1.3" height="18.5" fill="#bababa"/>
<rect x="424.90" y="204" width="1.3" height="18.5" fill="#bababa"/>
<rect x="433.70" y="198.9" width="8.3" height="7.3" fill="#878787"/>
<rect x="433.70" y="217.3" width="8.3" height="7.9" fill="#878787"/>
<rect x="435.30" y="204" width="1.3" height="18.5" fill="#bababa"/>
<rect x="439.40" y="204" width="1.3" height="18.5" fill="#bababa"/>
<rect x="448.20" y="198.9" width="8.3" height="7.3" fill="#878787"/>
<rect x="448.20" y="217.3" width="8.3" height="7.9" fill="#878787"/>
<rect x="449.80" y="204" width="1.3" height="18.5" fill="#bababa"/>
<rect x="453.90" y="204" width="1.3" height="18.5" fill="#bababa"/>
<rect x="462.70" y="198.9" width="8.3" height="7.3" fill="#878787"/>
<rect x="462.70" y="217.3" width="8.3" height="7.9" fill="#878787"/>
<rect x="464.30" y="204" width="1.3" height="18.5" fill="#bababa"/>
<rect x="468.40" y="204" width="1.3" height="18.5" fill="#bababa"/>
<rect x="477.20" y="198.9" width="8.3" height="7.3" fill="#878787"/>
<rect x="477.20" y="217.3" width="8.3" height="7.9" fill="#878787"/>
<rect x="478.80" y="204" width="1.3" height="18.5" fill="#bababa"/>
<rect x="482.90" y="204" width="1.3" height="18.5" fill="#bababa"/>
<rect x="491.70" y="198.9" width="8.3" height="7.3" fill="#878787"/>
<rect x="491.70" y="217.3" width="8.3" height="7.9" fill="#878787"/>
<rect x="493.30" y="204" width="1.3" height="18.5" fill="#bababa"/>
<rect x="497.40" y="204" width="1.3" height="18.5" fill="#bababa"/>
<rect x="506.20" y="198.9" width="8.3" height="7.3" fill="#878787"/>
<rect x="506.20" y="217.3" width="8.3" height="7.9" fill="#878787"/>
<rect x="507.80" y="204" width="1.3" height="18.5" fill="#bababa"/>
<rect x="511.90" y="204" width="1.3" height="18.5" fill="#bababa"/>
<rect x="520.70" y="198.9" width="8.3" height="7.3" fill="#878787"/>
<rect x="520.70" y="217.3" width="8.3" height="7.9" fill="#878787"/>
<rect x="522.30" y="204" width="1.3" height="18.5" fill="#bababa"/>
<rect x="526.40" y="204" width="1.3" height="18.5" fill="#bababa"/>
<rect x="535.20" y="198.9" width="8.3" height="7.3" fill="#878787"/>
<rect x="535.20" y="217.3" width="8.3" height="7.9" fill="#878787"/>
<rect x="536.80" y="204" width="1.3" height="18.5" fill="#bababa"/>
<rect x="540.90" y="204" width="1.3" height="18.5" fill="#bababa"/>
<rect x="549.70" y="198.9" width="8.3" height="7.3" fill="#878787"/>
<rect x="549.70" y="217.3" width="8.3" height="7.9" fill="#878787"/>
<rect x="551.30" y="204" width="1.3" height="18.5" fill="#bababa"/>
<rect x="555.40" y="204" width="1.3" height="18.5" fill="#bababa"/>
<rect x="564.20" y="198.9" width="8.3" height="7.3" fill="#878787"/>
<rect x="564.20" y="217.3" width="8.3" height="7.9" fill="#878787"/>
<rect x="565.80" y="204" width="1.3" height="18.5" fill="#bababa"/>
<rect x="569.90" y="204" width="1.3" height="18.5" fill="#bababa"/>
<rect x="578.70" y="198.9" width="8.3" height="7.3" fill="#878787"/>
<rect x="578.70" y="217.3" width="8.3" height="7.9" fill="#878787"/>
<rect x="580.30" y="204" width="1.3" height="18.5" fill="#bababa"/>
<rect x="584.40" y="204" width="1.3" height="18.5" fill="#bababa"/>
<text x="11" y="412.6" font-size="8" fill="#1e1e1e" stroke="#1e1e1e" stroke-width="0.08" textLength="297.3" lengthAdjust="spacing" xml:space="preserve" style="white-space:pre">* Feiertag in Baden-Württemberg, Bayern und Sachsen-Anhalt  ** Regional begrenzt</text>
</svg>
</body></html>
